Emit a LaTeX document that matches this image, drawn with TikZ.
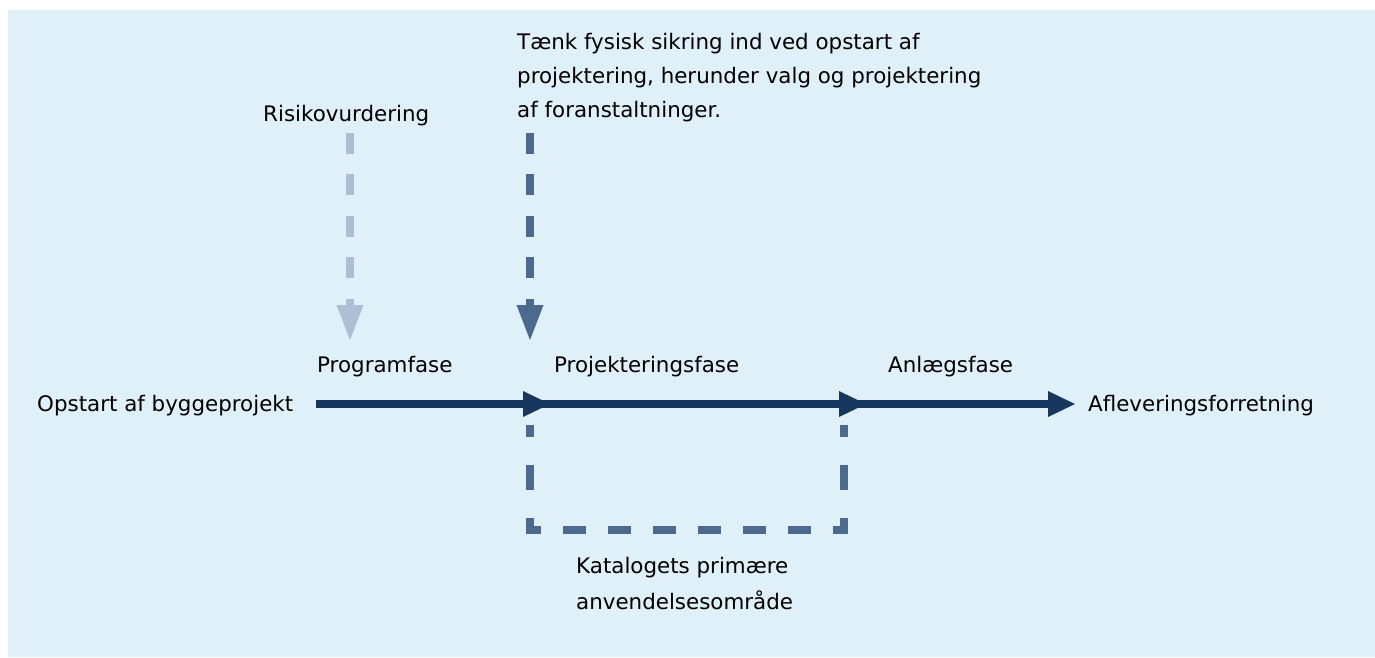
\documentclass[tikz,border=0pt]{standalone}
\usepackage{fontspec}
\setmainfont{DejaVu Sans}
\usetikzlibrary{arrows.meta}
\definecolor{bgc}{HTML}{E0F0F9}
\definecolor{navy}{HTML}{17375E}
\definecolor{midblue}{HTML}{4C6A8E}
\definecolor{paleblue}{HTML}{AEBFD5}
\begin{document}
\begin{tikzpicture}[x=1pt,y=-1pt,
  lbl/.style={font=\fontsize{21.4}{34}\selectfont, inner sep=0pt, text=black},
  mainarrow/.style={draw=navy, line width=8pt, -{Triangle[length=27pt,width=26pt,line width=0pt]}},
  dasharrow/.style={line width=8pt, dash pattern=on 20.7pt off 20.7pt, -{Triangle[length=35pt,width=27pt,line width=0pt]}},
  bracket/.style={draw=midblue, line width=8pt, line join=miter,
    dash pattern=on 12pt off 28pt on 25pt off 28pt on 23pt
      off 22pt on 23pt off 22pt on 23pt off 22pt on 23pt off 22pt on 23pt off 22pt on 23pt off 22pt on 23pt
      off 22pt on 23pt off 28pt on 25pt off 28pt on 12pt off 20pt}]
\useasboundingbox (0,0) rectangle (1375,657);
\fill[bgc] (8,10) rectangle (1375,657);

% labels
\node[lbl, anchor=base west] (risk) at (263,121) {Risikovurdering};
\node[lbl, anchor=north west, align=left] (think) at (517,33) {Tænk fysisk sikring ind ved opstart af\\projektering, herunder valg og projektering\\af foranstaltninger.};
\node[lbl, anchor=base west] (prog) at (317,372) {Programfase};
\node[lbl, anchor=base west] (proj) at (554,372) {Projekteringsfase};
\node[lbl, anchor=base west] (anl) at (888,372) {Anlægsfase};
\node[lbl, anchor=base west] (start) at (37,411) {Opstart af byggeprojekt};
\node[lbl, anchor=base west] (end) at (1088,411) {Afleveringsforretning};
\node[lbl, font=\fontsize{21.4}{36}\selectfont, anchor=north west, align=left] (kat) at (576,557) {Katalogets primære\\anvendelsesområde};

% coordinates
\coordinate (a0) at (316,404);
\coordinate (a1) at (550,404);
\coordinate (a1b) at (523,404);
\coordinate (a2) at (866,404);
\coordinate (a2b) at (838,404);
\coordinate (a3) at (1075,404);
\coordinate (r0) at (350,133);
\coordinate (r1) at (350,340);
\coordinate (t0) at (530,133);
\coordinate (t1) at (530,340);
\coordinate (b1) at (530,425);
\coordinate (b2) at (530,530);
\coordinate (b3) at (844,530);
\coordinate (b4) at (844,425);

% dashed arrows
\draw[dasharrow, draw=paleblue] (r0) -- (r1);
\draw[dasharrow, draw=midblue] (t0) -- (t1);

% bracket
\draw[bracket] (b1) -- (b2) -- (b3) -- (b4);

% main timeline
\draw[mainarrow] (a0) -- (a1);
\draw[mainarrow] (a1b) -- (a2);
\draw[mainarrow] (a2b) -- (a3);
\end{tikzpicture}
\end{document}
